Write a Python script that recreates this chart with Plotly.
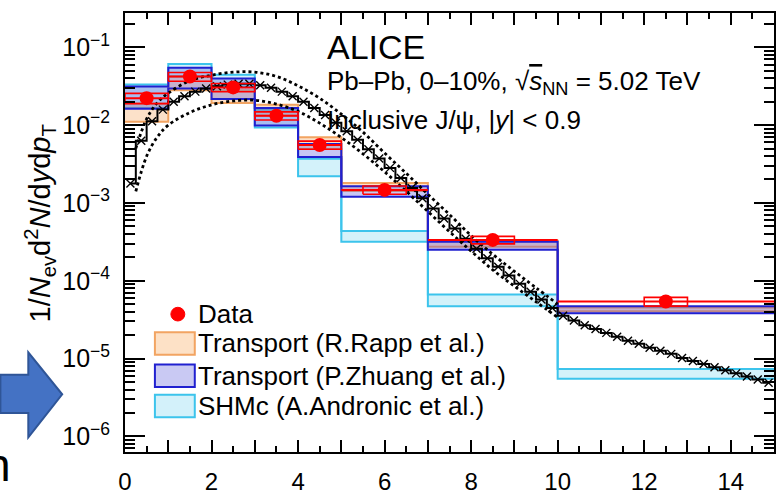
import plotly.graph_objects as go

# ---------------- data ----------------
bin_edges = [0, 1, 2, 3, 4, 5, 7, 10, 15]

# ALICE inclusive J/psi, Pb-Pb 0-10%
data_pt = [0.5, 1.5, 2.5, 3.5, 4.5, 6.0, 8.5, 12.5]
data_y = [2.22e-2, 4.2e-2, 3.05e-2, 1.32e-2, 5.55e-3, 1.47e-3, 3.35e-4, 5.42e-5]
data_sys_rel = [0.15, 0.13, 0.12, 0.12, 0.12, 0.12, 0.11, 0.13]

# model bands (per pT bin): upper / lower edge
rapp_hi = [1.9e-2, 4.2e-2, 2.8e-2, 1.82e-2, 6.98e-3, 1.8e-3, 3.26e-4, 4.55e-5]
rapp_lo = [1.1e-2, 2.8e-2, 1.92e-2, 1.32e-2, 4.93e-3, 1.42e-3, 2.73e-4, 4.06e-5]
zhuang_hi = [3.14e-2, 5.45e-2, 3.96e-2, 1.66e-2, 5.7e-3, 1.64e-3, 3.16e-4, 4.69e-5]
zhuang_lo = [1.62e-2, 2.96e-2, 2.16e-2, 9.9e-3, 3.9e-3, 1.2e-3, 2.51e-4, 3.83e-5]
shm_hi = [3.33e-2, 6.11e-2, 4.44e-2, 1.57e-2, 3.7e-3, 4.35e-4, 6.64e-5, 7.36e-6]
shm_lo = [1.66e-2, 4.2e-2, 3.14e-2, 9.33e-3, 2.2e-3, 3.16e-4, 4.69e-5, 5.51e-6]

# reference spectrum, fine binning (0.25 GeV/c bins)
ref_pt = [0.125 + 0.25 * i for i in range(60)]
ref_y = [1.78e-3, 6.31e-3, 1.12e-2, 1.58e-2, 2.00e-2, 2.34e-2, 2.69e-2, 2.95e-2,
         3.16e-2, 3.31e-2, 3.39e-2, 3.39e-2, 3.24e-2, 3.02e-2, 2.69e-2, 2.34e-2,
         2.00e-2, 1.66e-2, 1.35e-2, 1.07e-2, 8.32e-3, 6.46e-3, 4.90e-3, 3.72e-3,
         2.82e-3, 2.09e-3, 1.55e-3, 1.15e-3, 8.51e-4, 6.31e-4, 4.68e-4, 3.47e-4,
         2.57e-4, 1.95e-4, 1.51e-4, 1.17e-4, 9.12e-5, 7.24e-5, 5.75e-5, 4.47e-5,
         3.55e-5, 3.09e-5, 2.69e-5, 2.40e-5, 2.14e-5, 1.91e-5, 1.70e-5, 1.55e-5,
         1.38e-5, 1.26e-5, 1.15e-5, 1.02e-5, 9.33e-6, 8.51e-6, 7.76e-6, 7.08e-6,
         6.46e-6, 5.89e-6, 5.37e-6, 4.90e-6]

# uncertainty envelope of the reference spectrum
env_pt = [0.25, 0.5, 0.75, 1.0, 1.5, 2.0, 2.5, 3.0, 3.5, 4.0, 4.5, 5.0, 5.5,
          6.0, 6.5, 7.0, 7.5, 8.0, 8.5, 9.0, 9.5, 10.0]
env_hi = [5.01e-3, 1.20e-2, 1.95e-2, 2.57e-2, 3.72e-2, 4.37e-2, 4.79e-2, 4.79e-2,
          4.22e-2, 3.20e-2, 2.21e-2, 1.38e-2, 8.13e-3, 4.37e-3, 2.40e-3, 1.29e-3,
          7.08e-4, 3.80e-4, 2.19e-4, 1.32e-4, 8.13e-5, 5.01e-5]
env_lo = [1.41e-3, 3.98e-3, 7.08e-3, 1.00e-2, 1.45e-2, 1.82e-2, 2.04e-2, 2.09e-2,
          1.86e-2, 1.50e-2, 1.06e-2, 6.92e-3, 4.27e-3, 2.51e-3, 1.41e-3, 7.76e-4,
          4.27e-4, 2.40e-4, 1.38e-4, 8.51e-5, 5.37e-5, 3.39e-5]

x_tick_vals = list(range(0, 15))
x_tick_text = [str(v) if v % 2 == 0 else "" for v in x_tick_vals]
y_decades = [-6, -5, -4, -3, -2, -1]
y_tick_text = ["10<sup>\u2212%d</sup>" % (-e) for e in y_decades]

legend_labels = ["Data", "Transport (R.Rapp et al.)",
                 "Transport (P.Zhuang et al.)", "SHMc (A.Andronic et al.)"]

# ---------------- figure geometry ----------------
W, H = 776, 495
ML, MR, MT, MB = 125, 0, 13, 33
PW, PH = W - ML - MR, H - MT - MB
FONT = "Liberation Sans, Arial, Helvetica, sans-serif"
SYS_HALF_WIDTH = 0.5


def px(X):
    return (X - ML) / PW


def py(Y):
    return (H - MB - Y) / PH


def steps(vals):
    return list(vals) + [vals[-1]]


fig = go.Figure()


def add_band(lo, hi, line_col, fill_col):
    fig.add_trace(go.Scatter(x=bin_edges, y=steps(lo), mode="lines",
                             line=dict(color=line_col, width=2, shape="hv"),
                             showlegend=False, hoverinfo="skip"))
    fig.add_trace(go.Scatter(x=bin_edges, y=steps(hi), mode="lines",
                             line=dict(color=line_col, width=2, shape="hv"),
                             fill="tonexty", fillcolor=fill_col,
                             showlegend=False, hoverinfo="skip"))


SHM_LINE, SHM_FILL = "#3cc4ec", "rgba(110,212,240,0.30)"
RAPP_LINE, RAPP_FILL = "#f2a462", "rgba(246,170,100,0.35)"
ZH_LINE, ZH_FILL = "#2020d0", "rgba(70,70,220,0.30)"

add_band(shm_lo, shm_hi, SHM_LINE, SHM_FILL)
add_band(rapp_lo, rapp_hi, RAPP_LINE, RAPP_FILL)
add_band(zhuang_lo, zhuang_hi, ZH_LINE, ZH_FILL)

# reference spectrum envelope (dotted) and central histogram
for env in (env_hi, env_lo):
    fig.add_trace(go.Scatter(x=env_pt, y=env, mode="lines",
                             line=dict(color="black", width=2.8, dash="dot", shape="spline"),
                             showlegend=False, hoverinfo="skip"))
fig.add_trace(go.Scatter(x=ref_pt, y=ref_y, mode="lines+markers",
                         line=dict(color="black", width=2, shape="hvh"),
                         marker=dict(symbol="x-thin-open", size=8,
                                     line=dict(color="black", width=1.4)),
                         showlegend=False, hoverinfo="skip"))

# data: systematic boxes
bx, by = [], []
for x, y, s in zip(data_pt, data_y, data_sys_rel):
    x0, x1 = x - SYS_HALF_WIDTH, x + SYS_HALF_WIDTH
    y0, y1 = y * (1 - s), y * (1 + s)
    bx += [x0, x1, x1, x0, x0, None]
    by += [y0, y0, y1, y1, y0, None]
fig.add_trace(go.Scatter(x=bx, y=by, mode="lines",
                         line=dict(color="red", width=1.6),
                         showlegend=False, hoverinfo="skip"))

# data points with bin-width bars
half_w = [(b - a) / 2 for a, b in zip(bin_edges[:-1], bin_edges[1:])]
fig.add_trace(go.Scatter(x=data_pt, y=data_y, mode="markers",
                         marker=dict(symbol="circle", size=14, color="red"),
                         error_x=dict(type="data", array=half_w, arrayminus=half_w,
                                      color="red", thickness=2, width=0),
                         showlegend=False, hoverinfo="skip"))

# ---------------- axes ----------------
fig.update_xaxes(range=[0, 15], showgrid=False, zeroline=False,
                 showline=True, linecolor="black", linewidth=2, mirror="allticks",
                 ticks="inside", ticklen=12, tickwidth=2, tickcolor="black",
                 tickmode="array", tickvals=x_tick_vals, ticktext=x_tick_text,
                 tickfont=dict(family=FONT, size=24, color="black"),
                 ticklabelstandoff=7,
                 minor=dict(ticks="inside", ticklen=6, tickwidth=1.5,
                            tickcolor="black", dtick=0.5, tick0=0))

minor_y = [k * 10.0 ** e for e in range(-7, 1) for k in range(2, 10)]
fig.update_yaxes(type="log", range=[-6.2, -0.56], showgrid=False, zeroline=False,
                 showline=True, linecolor="black", linewidth=2, mirror="allticks",
                 ticks="inside", ticklen=20, tickwidth=2, tickcolor="black",
                 tickmode="array", tickvals=[10.0 ** e for e in y_decades],
                 ticktext=y_tick_text,
                 tickfont=dict(family=FONT, size=25, color="black"),
                 ticklabelstandoff=8,
                 minor=dict(ticks="inside", ticklen=10, tickwidth=1.5,
                            tickcolor="black", tickmode="array", tickvals=minor_y))

# ---------------- texts ----------------
ann = []
ann.append(dict(text="1/<i>N</i><sub>ev</sub>d<sup>2</sup><i>N</i>/d<i>y</i>d<i>p</i><sub>T</sub>",
                x=px(40), y=py(228), xref="paper", yref="paper", textangle=-90,
                xanchor="center", yanchor="middle", showarrow=False,
                font=dict(family=FONT, size=29, color="black")))
ann.append(dict(text="ALICE", x=px(326), y=py(48), xref="paper", yref="paper",
                xanchor="left", yanchor="middle", showarrow=False,
                font=dict(family=FONT, size=34, color="black")))
ann.append(dict(text="Pb\u2013Pb, 0\u201310%, \u221a<span style='text-decoration:overline'><i>s</i></span><sub>NN</sub> = 5.02 TeV",
                x=px(326), y=py(84), xref="paper", yref="paper",
                xanchor="left", yanchor="middle", showarrow=False,
                font=dict(family=FONT, size=26, color="black")))
ann.append(dict(text="Inclusive J/\u03c8, |<i>y</i>| &lt; 0.9",
                x=px(326), y=py(122), xref="paper", yref="paper",
                xanchor="left", yanchor="middle", showarrow=False,
                font=dict(family=FONT, size=26, color="black")))

# legend
leg_rows = [321, 351, 384, 415]
for lab, yc in zip(legend_labels, leg_rows):
    ann.append(dict(text=lab, x=px(196), y=py(yc), xref="paper", yref="paper",
                    xanchor="left", yanchor="middle", showarrow=False,
                    font=dict(family=FONT, size=26, color="black")))

# partial word at the lower left edge
ann.append(dict(text="n", x=px(13), y=py(475), xref="paper", yref="paper",
                xanchor="right", yanchor="middle", showarrow=False,
                font=dict(family=FONT, size=46, color="black")))

shapes = []
shapes.append(dict(type="circle", xref="paper", yref="paper",
                   x0=px(171), x1=px(185), y0=py(314), y1=py(328),
                   fillcolor="red", line=dict(color="red", width=1)))
swatches = [("#fde1c6", RAPP_LINE), ("#c9c9f3", ZH_LINE), ("#d3f1fa", SHM_LINE)]
for (fc, lc), yc in zip(swatches, leg_rows[1:]):
    shapes.append(dict(type="rect", xref="paper", yref="paper",
                       x0=px(155), x1=px(195), y0=py(yc - 11.5), y1=py(yc + 11.5),
                       fillcolor=fc, line=dict(color=lc, width=2)))

# block arrow on the left
arrow_pts = [(0, 383), (28, 383), (28, 360), (62, 403), (28, 447), (28, 422), (0, 422)]
path = "M " + " L ".join("%f,%f" % (px(a), py(b)) for a, b in arrow_pts) + " Z"
shapes.append(dict(type="path", xref="paper", yref="paper", path=path,
                   fillcolor="#4472c4", line=dict(color="#2f5597", width=2)))

fig.update_layout(width=W, height=H,
                  margin=dict(l=ML, r=MR, t=MT, b=MB),
                  paper_bgcolor="white", plot_bgcolor="white",
                  showlegend=False, annotations=ann, shapes=shapes)

fig.write_html("out.html")
